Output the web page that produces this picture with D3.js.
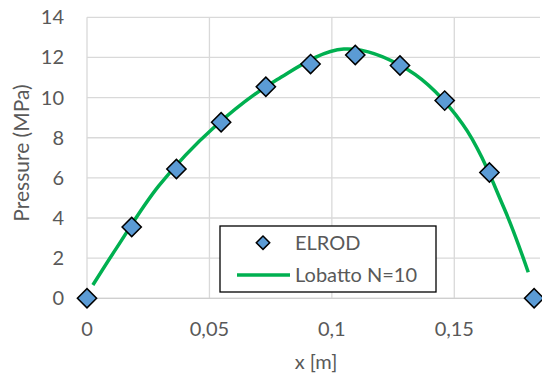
<!DOCTYPE html>
<html lang="en">
<head>
    <meta charset="UTF-8">
    <title>Pressure</title>
    <script src="https://cdn.jsdelivr.net/npm/d3@7/dist/d3.min.js"></script>
    <style>
        body { margin: 0; background: #fff; }
        svg { display: block; font-family: Lato, "Open Sans", sans-serif; }
        svg .grid line { stroke: #d9d9d9; stroke-width: 1.3; }
        svg .tick-label { fill: #595959; font-size: 20px; }
        svg .axis-title { fill: #595959; font-size: 20px; }
        svg .legend-text { fill: #595959; font-size: 20px; }
    </style>
</head>
<body>
<svg width="542" height="376"></svg>
<script>

    // ELROD solution (markers)
    var elrodX = [0, 0.01826, 0.03652, 0.05478, 0.07304, 0.0913, 0.10956, 0.12782, 0.14608, 0.16434, 0.1826];
    var elrodP = [0, 3.55, 6.44, 8.77, 10.54, 11.67, 12.12, 11.6, 9.85, 6.27, 0];

    // Lobatto N=10 (smoothed line through nodes)
    var lobX = [0.0024, 0.0123, 0.0293, 0.0517, 0.0777, 0.1049, 0.1309, 0.1533, 0.1703, 0.1802];
    var lobP = [0.66, 2.55, 5.6, 8.5, 10.9, 12.42, 11.4, 8.7, 4.5, 1.3];

    var xTicks = [0, 0.05, 0.1, 0.15];
    var yTicks = [0, 2, 4, 6, 8, 10, 12, 14];

    var svg = d3.select('svg'),
        margin = { top: 17.3, right: 2, bottom: 77.7, left: 87 },
        chartWidth = 542 - margin.left - margin.right,
        chartHeight = 376 - margin.top - margin.bottom;

    var xScale = d3.scaleLinear().domain([0, 0.185]).range([0, chartWidth]),
        yScale = d3.scaleLinear().domain([0, 14]).range([chartHeight, 0]);

    var g = svg.append('g')
        .attr('transform', 'translate(' + [margin.left, margin.top] + ')');

    var grid = g.append('g').classed('grid', true);

    grid.selectAll('.hline')
        .data(yTicks)
        .enter()
        .append('line')
        .attr('x1', 0)
        .attr('x2', chartWidth)
        .attr('y1', function(d) { return yScale(d); })
        .attr('y2', function(d) { return yScale(d); });

    grid.selectAll('.vline')
        .data(xTicks)
        .enter()
        .append('line')
        .attr('x1', function(d) { return xScale(d); })
        .attr('x2', function(d) { return xScale(d); })
        .attr('y1', 0)
        .attr('y2', chartHeight);

    // bottom axis line a bit darker
    g.append('line')
        .attr('x1', 0).attr('x2', chartWidth)
        .attr('y1', yScale(0)).attr('y2', yScale(0))
        .style('stroke', '#cfcfcf')
        .style('stroke-width', 1.3);

    // tick labels
    g.selectAll('.ylab')
        .data(yTicks)
        .enter()
        .append('text')
        .classed('tick-label', true)
        .attr('x', -23)
        .attr('y', function(d) { return yScale(d); })
        .attr('dy', '0.35em')
        .attr('text-anchor', 'end')
        .text(function(d) { return d; });

    g.selectAll('.xlab')
        .data(xTicks)
        .enter()
        .append('text')
        .classed('tick-label', true)
        .attr('x', function(d) { return xScale(d); })
        .attr('y', chartHeight + 31)
        .attr('dy', '0.35em')
        .attr('text-anchor', 'middle')
        .text(function(d) { return String(d).replace('.', ','); });

    // axis titles
    svg.append('text')
        .classed('axis-title', true)
        .attr('x', 316)
        .attr('y', 362)
        .attr('dy', '0.35em')
        .attr('text-anchor', 'middle')
        .text('x [m]');

    svg.append('text')
        .classed('axis-title', true)
        .style('font-size', '21px')
        .attr('transform', 'translate(22,153) rotate(-90)')
        .attr('dy', '0.35em')
        .attr('text-anchor', 'middle')
        .text('Pressure (MPa)');

    // Lobatto line
    var lineGene = d3.line()
        .x(function(d) { return xScale(d[0]); })
        .y(function(d) { return yScale(d[1]); })
        .curve(d3.curveCatmullRom.alpha(0.5));

    g.append('path')
        .attr('d', lineGene(d3.zip(lobX, lobP)))
        .style('fill', 'none')
        .style('stroke', '#00b050')
        .style('stroke-width', 3.5);

    // ELROD markers
    var diamond = d3.symbol().type(d3.symbolSquare).size(185);

    g.selectAll('.marker')
        .data(d3.zip(elrodX, elrodP))
        .enter()
        .append('path')
        .attr('d', diamond)
        .attr('transform', function(d) {
            return 'translate(' + [xScale(d[0]), yScale(d[1])] + ') rotate(45)';
        })
        .style('fill', '#5b9bd5')
        .style('stroke', '#000')
        .style('stroke-width', 1.5);

    // legend
    var legend = svg.append('g');

    legend.append('rect')
        .attr('x', 220).attr('y', 226)
        .attr('width', 216).attr('height', 66)
        .style('fill', '#fff')
        .style('stroke', '#000')
        .style('stroke-width', 1.3);

    legend.append('path')
        .attr('d', d3.symbol().type(d3.symbolSquare).size(90))
        .attr('transform', 'translate(263,242.7) rotate(45)')
        .style('fill', '#5b9bd5')
        .style('stroke', '#000')
        .style('stroke-width', 1.5);

    legend.append('line')
        .attr('x1', 237).attr('x2', 290)
        .attr('y1', 275).attr('y2', 275)
        .style('stroke', '#00b050')
        .style('stroke-width', 3.5);

    legend.append('text')
        .classed('legend-text', true)
        .attr('x', 295).attr('y', 242.7)
        .attr('dy', '0.35em')
        .text('ELROD');

    legend.append('text')
        .classed('legend-text', true)
        .attr('x', 295).attr('y', 275)
        .attr('dy', '0.35em')
        .text('Lobatto N=10');

</script>
</body>
</html>
